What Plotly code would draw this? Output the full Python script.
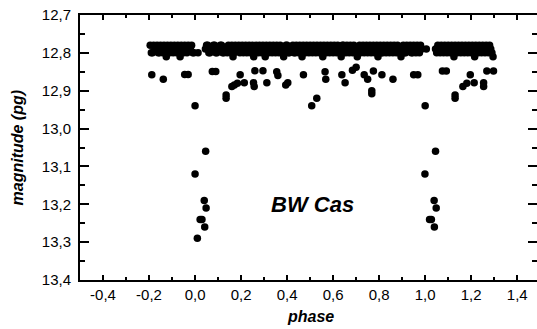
import plotly.graph_objects as go

# ---- data ----
band_phase = [
    -0.195, -0.185, -0.175, -0.165, -0.155, -0.145, -0.135, -0.125, -0.115, -0.105,
    -0.095, -0.085, -0.075, -0.065, -0.055, -0.045, -0.035, -0.025, -0.015, -0.005,
    0.013,
    0.045, 0.055, 0.065, 0.075, 0.085, 0.095, 0.105, 0.115, 0.125, 0.135,
    0.145, 0.155, 0.165, 0.175, 0.185, 0.195, 0.205, 0.215, 0.225, 0.235,
    0.245, 0.255, 0.265, 0.275, 0.285, 0.295, 0.305, 0.315, 0.325, 0.335,
    0.345, 0.355, 0.365, 0.375, 0.385, 0.395, 0.405, 0.415, 0.425, 0.435,
    0.445, 0.455, 0.465, 0.475, 0.485, 0.495, 0.505, 0.515, 0.525, 0.535,
    0.545, 0.555, 0.565, 0.575, 0.585, 0.595, 0.605, 0.615, 0.625, 0.635,
    0.645, 0.655, 0.665, 0.675, 0.685, 0.695, 0.705, 0.715, 0.725, 0.735,
    0.745, 0.755, 0.765, 0.775, 0.785, 0.795, 0.805, 0.815, 0.825, 0.835,
    0.845, 0.855, 0.865, 0.875, 0.885, 0.895, 0.905, 0.915, 0.925, 0.935,
    0.945, 0.955, 0.965, 0.975, 0.985,
    1.005,
    1.045, 1.055, 1.065, 1.075, 1.085, 1.095, 1.105, 1.115, 1.125, 1.135,
    1.145, 1.155, 1.165, 1.175, 1.185, 1.195, 1.205, 1.215, 1.225, 1.235,
    1.245, 1.255, 1.265, 1.275, 1.285, 1.295,
]
band_mag = [
    12.78, 12.80, 12.79, 12.78, 12.80, 12.79, 12.78, 12.81, 12.79, 12.78,
    12.80, 12.79, 12.78, 12.81, 12.79, 12.78, 12.80, 12.79, 12.78, 12.80,
    12.80,
    12.79, 12.78, 12.80, 12.79, 12.78, 12.80, 12.79, 12.78, 12.80, 12.79,
    12.78, 12.80, 12.81, 12.78, 12.79, 12.80, 12.78, 12.79, 12.80, 12.78,
    12.79, 12.81, 12.78, 12.80, 12.79, 12.78, 12.81, 12.79, 12.78, 12.80,
    12.79, 12.78, 12.80, 12.79, 12.81, 12.78, 12.80, 12.79, 12.78, 12.80,
    12.79, 12.78, 12.81, 12.79, 12.78, 12.80, 12.79, 12.78, 12.80, 12.79,
    12.78, 12.81, 12.79, 12.78, 12.80, 12.79, 12.78, 12.80, 12.79, 12.81,
    12.78, 12.80, 12.79, 12.78, 12.80, 12.79, 12.81, 12.78, 12.79, 12.80,
    12.78, 12.79, 12.80, 12.78, 12.79, 12.81, 12.78, 12.80, 12.79, 12.78,
    12.80, 12.79, 12.78, 12.80, 12.79, 12.81, 12.78, 12.80, 12.79, 12.78,
    12.80, 12.79, 12.78, 12.80, 12.79,
    12.79,
    12.79, 12.78, 12.80, 12.79, 12.78, 12.80, 12.79, 12.78, 12.81, 12.79,
    12.78, 12.80, 12.79, 12.78, 12.80, 12.79, 12.78, 12.81, 12.79, 12.78,
    12.80, 12.79, 12.78, 12.80, 12.79, 12.81,
]

band2_phase = [
    -0.19, -0.18, -0.17, -0.16, -0.15, -0.14, -0.13, -0.12, -0.11, -0.10,
    -0.09, -0.08, -0.07, -0.06, -0.05, -0.04, -0.03, -0.02, -0.01,
    0.05, 0.06, 0.07, 0.08, 0.09, 0.10, 0.11, 0.12, 0.13, 0.14,
    0.15, 0.16, 0.17, 0.18, 0.19, 0.20, 0.21, 0.22, 0.23, 0.24,
    0.25, 0.26, 0.27, 0.28, 0.29, 0.30, 0.31, 0.32, 0.33, 0.34,
    0.35, 0.36, 0.37, 0.38, 0.39, 0.40, 0.41, 0.42, 0.43, 0.44,
    0.45, 0.46, 0.47, 0.48, 0.49, 0.50, 0.51, 0.52, 0.53, 0.54,
    0.55, 0.56, 0.57, 0.58, 0.59, 0.60, 0.61, 0.62, 0.63, 0.64,
    0.65, 0.66, 0.67, 0.68, 0.69, 0.70, 0.71, 0.72, 0.73, 0.74,
    0.75, 0.76, 0.77, 0.78, 0.79, 0.80, 0.81, 0.82, 0.83, 0.84,
    0.85, 0.86, 0.87, 0.88, 0.89, 0.90, 0.91, 0.92, 0.93, 0.94,
    0.95, 0.96, 0.97, 0.98,
    1.05, 1.06, 1.07, 1.08, 1.09, 1.10, 1.11, 1.12, 1.13, 1.14,
    1.15, 1.16, 1.17, 1.18, 1.19, 1.20, 1.21, 1.22, 1.23, 1.24,
    1.25, 1.26, 1.27, 1.28, 1.29,
]
band2_mag = [
    12.80, 12.78, 12.79, 12.80, 12.78, 12.80, 12.79, 12.78, 12.80, 12.79,
    12.78, 12.80, 12.79, 12.78, 12.80, 12.79, 12.78, 12.79, 12.80,
    12.78, 12.80, 12.79, 12.78, 12.80, 12.79, 12.78, 12.80, 12.79, 12.80,
    12.79, 12.78, 12.80, 12.79, 12.78, 12.79, 12.80, 12.78, 12.79, 12.80,
    12.78, 12.80, 12.79, 12.78, 12.80, 12.79, 12.78, 12.80, 12.79, 12.78,
    12.80, 12.79, 12.78, 12.80, 12.79, 12.78, 12.80, 12.79, 12.80, 12.78,
    12.80, 12.79, 12.78, 12.80, 12.79, 12.78, 12.80, 12.79, 12.78, 12.80,
    12.79, 12.78, 12.80, 12.79, 12.78, 12.80, 12.79, 12.78, 12.80, 12.78,
    12.79, 12.78, 12.80, 12.79, 12.78, 12.80, 12.79, 12.80, 12.78, 12.79,
    12.80, 12.78, 12.79, 12.80, 12.78, 12.79, 12.80, 12.78, 12.80, 12.79,
    12.78, 12.80, 12.79, 12.78, 12.80, 12.79, 12.80, 12.78, 12.79, 12.80,
    12.78, 12.80, 12.79, 12.78,
    12.80, 12.79, 12.78, 12.80, 12.79, 12.78, 12.80, 12.79, 12.78, 12.80,
    12.79, 12.78, 12.80, 12.79, 12.78, 12.80, 12.79, 12.78, 12.80, 12.79,
    12.78, 12.80, 12.79, 12.78, 12.80,
]

low_phase = [
    -0.188, -0.138, -0.045, -0.030,
    0.000, 0.046, 0.000, 0.040, 0.048, 0.022, 0.030, 0.042, 0.010,
    0.075, 0.090, 0.135, 0.135, 0.160, 0.171, 0.184, 0.196, 0.214,
    0.254, 0.257, 0.260, 0.295, 0.312, 0.355, 0.360, 0.394, 0.403,
    0.471, 0.507, 0.529, 0.565, 0.568, 0.638, 0.652, 0.684, 0.700,
    0.735, 0.750, 0.768, 0.768, 0.775, 0.812, 0.860, 0.950, 0.968,
    1.000, 1.045, 0.999, 1.039, 1.048, 1.019, 1.027, 1.040,
    1.075, 1.092, 1.130, 1.130, 1.164, 1.181, 1.196, 1.213,
    1.254, 1.254, 1.268, 1.297,
]
low_mag = [
    12.858, 12.870, 12.857, 12.857,
    12.940, 13.060, 13.120, 13.190, 13.210, 13.240, 13.240, 13.260, 13.290,
    12.849, 12.849, 12.911, 12.920, 12.889, 12.885, 12.880, 12.858, 12.879,
    12.879, 12.889, 12.847, 12.847, 12.879, 12.850, 12.860, 12.885, 12.879,
    12.858, 12.940, 12.920, 12.850, 12.870, 12.858, 12.879, 12.846, 12.838,
    12.858, 12.870, 12.900, 12.908, 12.848, 12.858, 12.870, 12.858, 12.858,
    12.940, 13.060, 13.120, 13.190, 13.210, 13.240, 13.240, 13.260,
    12.848, 12.848, 12.911, 12.920, 12.889, 12.880, 12.858, 12.879,
    12.879, 12.889, 12.848, 12.848,
]

x_ticks = [-0.4, -0.2, 0.0, 0.2, 0.4, 0.6, 0.8, 1.0, 1.2, 1.4]
x_labels = ["-0,4", "-0,2", "0,0", "0,2", "0,4", "0,6", "0,8", "1,0", "1,2", "1,4"]
y_ticks = [12.7, 12.8, 12.9, 13.0, 13.1, 13.2, 13.3, 13.4]
y_labels = ["12,7", "12,8", "12,9", "13,0", "13,1", "13,2", "13,3", "13,4"]

FONT = "Liberation Sans, Arial, sans-serif"

fig = go.Figure()
fig.add_trace(go.Scatter(
    x=band_phase + band2_phase + low_phase, y=band_mag + band2_mag + low_mag,
    mode="markers",
    marker=dict(size=7.5, color="black", line=dict(width=0)),
    showlegend=False, hoverinfo="skip",
))
fig.add_trace(go.Scatter(x=[], y=[], yaxis="y2", showlegend=False))

fig.update_layout(
    width=537, height=329,
    margin=dict(l=80, r=0, t=15, b=49),
    paper_bgcolor="white", plot_bgcolor="white",
    font=dict(family=FONT, color="black"),
    xaxis=dict(
        range=[-0.5, 1.486], tickmode="array", tickvals=x_ticks, ticktext=x_labels,
        ticks="inside", ticklen=5, tickwidth=2, tickcolor="black",
        showline=True, linewidth=2, linecolor="black", mirror="ticks",
        showgrid=False, zeroline=False,
        tickfont=dict(size=15, family=FONT, color="black"),
        minor=dict(ticks="inside", ticklen=3, tickwidth=2, tickcolor="black",
                   tickmode="linear", tick0=0, dtick=0.1, showgrid=False),
    ),
    yaxis=dict(
        range=[13.4, 12.7], tickmode="array", tickvals=y_ticks, ticktext=y_labels,
        ticks="inside", ticklen=9, tickwidth=2, tickcolor="black",
        showline=True, linewidth=2, linecolor="black",
        showgrid=False, zeroline=False, ticklabelstandoff=4,
        tickfont=dict(size=15, family=FONT, color="black"),
        minor=dict(ticks="inside", ticklen=5, tickwidth=2, tickcolor="black",
                   tickmode="linear", tick0=12.7, dtick=0.05, showgrid=False),
    ),
    yaxis2=dict(
        overlaying="y", side="right", anchor="x",
        range=[13.4, 12.7], tickmode="array", tickvals=y_ticks,
        showticklabels=False, ticks="inside", ticklen=9, tickwidth=2, tickcolor="black",
        showline=False, showgrid=False, zeroline=False,
        minor=dict(ticks="inside", ticklen=5, tickwidth=2, tickcolor="black",
                   tickmode="linear", tick0=12.7, dtick=0.05, showgrid=False),
    ),
    annotations=[
        dict(text="<b><i>magnitude (pg)</i></b>", xref="paper", yref="paper",
             x=-0.1357, y=0.5, xanchor="center", yanchor="middle", textangle=-90,
             showarrow=False, font=dict(size=16, family=FONT, color="black")),
        dict(text="<b><i>phase</i></b>", xref="paper", yref="paper",
             x=0.505, y=-0.136, xanchor="center", yanchor="middle",
             showarrow=False, font=dict(size=16, family=FONT, color="black")),
        dict(text="<b><i>BW Cas</i></b>", xref="x", yref="y",
             x=0.51, y=13.2, xanchor="center", yanchor="middle",
             showarrow=False, font=dict(size=22, family=FONT, color="black")),
    ],
)

fig.write_html("out.html")
